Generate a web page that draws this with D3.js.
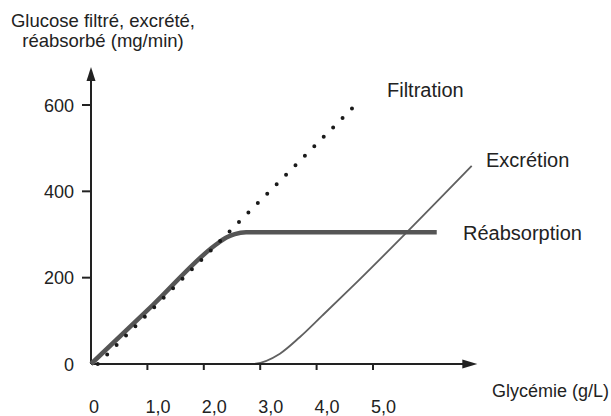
<!DOCTYPE html>
<html>
<head>
<meta charset="utf-8">
<script src="https://cdn.jsdelivr.net/npm/d3@7/dist/d3.min.js"></script>
<style>
  html, body { margin: 0; padding: 0; background: #fff; }
  svg { display: block; }
  text { font-family: "Liberation Sans", Arial, Helvetica, sans-serif; fill: #222; }
</style>
</head>
<body>
<svg id="chart" width="611" height="416"></svg>
<script>
// ---- data ----
const xTicks = [0, 1, 2, 3, 4, 5];
const xTickLabels = ["0", "1,0", "2,0", "3,0", "4,0", "5,0"];
const yTicks = [0, 200, 400, 600];
const yTickLabels = ["0", "200", "400", "600"];
const filtration = [[0.12, 0], [4.65, 595]];
const reabsorption = [[0, 0], [1.1, 137], [2.2, 275], [2.4, 293], [2.55, 301], [2.75, 305], [6.13, 305]];
const excretion = [[0, 0], [2.85, 0], [3.35, 24], [3.7, 62], [4.1, 112], [4.6, 175], [6.75, 459]];
const titleLines = ["Glucose filtré, excrété,", "réabsorbé (mg/min)"];
const seriesLabels = ["Filtration", "Excrétion", "Réabsorption"];
const xTitle = "Glycémie (g/L)";
const xAxisEnd = 6.85, yAxisEnd = 688;

// ---- scales ----
const x = d3.scaleLinear().domain([0, 5]).range([91, 373]);
const y = d3.scaleLinear().domain([0, 600]).range([364, 105]);
const svg = d3.select("#chart");

// title
svg.append("text").attr("x", 103).attr("text-anchor", "middle")
  .style("font-size", "18.5px")
  .selectAll("tspan").data(titleLines).join("tspan")
  .attr("x", 103).attr("y", (d, i) => 27 + i * 20).text(d => d);

const line = d3.line().x(d => x(d[0])).y(d => y(d[1]));

// excretion (thin)
svg.append("path").datum(excretion)
  .attr("d", line.curve(d3.curveMonotoneX))
  .attr("fill", "none").attr("stroke", "#606060").attr("stroke-width", 1.8);

// axes
const axisG = svg.append("g").attr("stroke", "#222").attr("stroke-width", 2);
axisG.append("line").attr("x1", x(0)).attr("x2", x(xAxisEnd) - 10)
  .attr("y1", y(0)).attr("y2", y(0));
axisG.append("line").attr("x1", x(0)).attr("x2", x(0))
  .attr("y1", y(0)).attr("y2", y(yAxisEnd) + 10);
svg.append("path")
  .attr("d", `M${x(xAxisEnd)},${y(0)} L${x(xAxisEnd) - 15},${y(0) - 4.5} L${x(xAxisEnd) - 15},${y(0) + 4.5} Z`)
  .attr("fill", "#222");
svg.append("path")
  .attr("d", `M${x(0)},${y(yAxisEnd)} L${x(0) - 4.5},${y(yAxisEnd) + 14} L${x(0) + 4.5},${y(yAxisEnd) + 14} Z`)
  .attr("fill", "#222");

// x ticks
svg.append("g").selectAll("line").data(xTicks.filter(d => d > 0)).join("line")
  .attr("x1", d => x(d)).attr("x2", d => x(d))
  .attr("y1", y(0)).attr("y2", y(0) + 6)
  .attr("stroke", "#222").attr("stroke-width", 2);
svg.append("g").selectAll("text").data(xTicks).join("text")
  .attr("x", d => x(d) - 2).attr("y", 413)
  .style("font-size", "18px")
  .text((d, i) => xTickLabels[i]);

// y ticks
svg.append("g").selectAll("line").data(yTicks.filter(d => d > 0)).join("line")
  .attr("x1", x(0) - 9).attr("x2", x(0))
  .attr("y1", d => y(d)).attr("y2", d => y(d))
  .attr("stroke", "#222").attr("stroke-width", 2);
svg.append("g").selectAll("text").data(yTicks).join("text")
  .attr("x", 74).attr("y", d => y(d) + 6.5).attr("text-anchor", "end")
  .style("font-size", "18px")
  .text((d, i) => yTickLabels[i]);

// reabsorption (thick)
svg.append("path").datum(reabsorption)
  .attr("d", line.curve(d3.curveMonotoneX))
  .attr("fill", "none").attr("stroke", "#555").attr("stroke-width", 4.5)
  .attr("stroke-linejoin", "round");

// filtration (dotted)
svg.append("path").datum(filtration)
  .attr("d", line.curve(d3.curveLinear))
  .attr("fill", "none").attr("stroke", "#1a1a1a").attr("stroke-width", 4)
  .attr("stroke-linecap", "round").attr("stroke-dasharray", "0 13.35");

// series labels
const labelPos = [[387, 97], [486, 167], [463, 240]];
svg.append("g").selectAll("text").data(seriesLabels).join("text")
  .attr("x", (d, i) => labelPos[i][0]).attr("y", (d, i) => labelPos[i][1])
  .style("font-size", "20px")
  .text(d => d);

// x title
svg.append("text").attr("x", 492).attr("y", 397)
  .style("font-size", "18px").text(xTitle);
</script>
</body>
</html>
